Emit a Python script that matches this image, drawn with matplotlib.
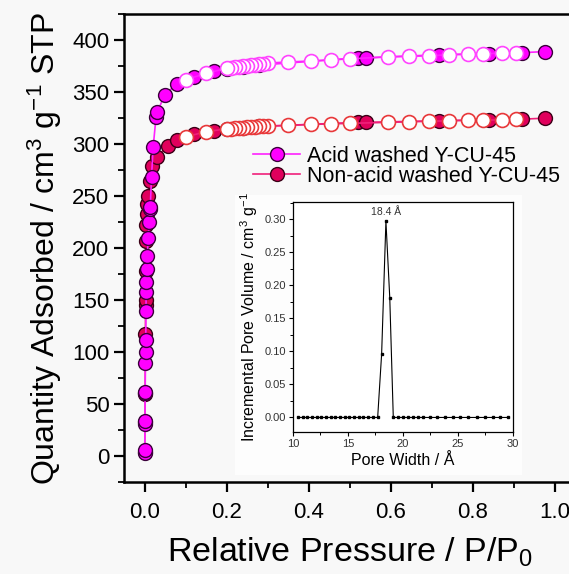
import matplotlib
matplotlib.use("Agg")
import matplotlib.pyplot as plt
from matplotlib.patches import Rectangle
from matplotlib.ticker import MultipleLocator

plt.rcParams['font.family'] = ['Liberation Sans', 'DejaVu Sans']
plt.rcParams['mathtext.default'] = 'regular'

# ---------- isotherm data ----------
acid_ads_x = [0.0005, 0.0005, 0.001, 0.001, 0.0015, 0.0015, 0.002, 0.0025, 0.003,
              0.0035, 0.004, 0.0045, 0.005, 0.0065, 0.009, 0.011, 0.013, 0.014,
              0.017, 0.021, 0.028, 0.031, 0.049, 0.078, 0.12, 0.17, 0.2, 0.24,
              0.28, 0.52, 0.54, 0.717, 0.84, 0.92, 0.976]
acid_ads_y = [3, 6, 31, 34, 61, 62, 90, 100, 112, 140, 158, 167, 180, 192, 210,
              225, 238, 240, 268, 297, 326, 331, 347, 358, 365, 370, 372, 374,
              376, 383, 383, 386, 387, 388, 389]

nonacid_ads_x = [0.0005, 0.001, 0.0015, 0.002, 0.0025, 0.003, 0.0035, 0.004,
                 0.0045, 0.005, 0.007, 0.009, 0.013, 0.019, 0.031, 0.056, 0.08,
                 0.12, 0.17, 0.2, 0.24, 0.28, 0.52, 0.54, 0.717, 0.84, 0.92, 0.976]
nonacid_ads_y = [4, 33, 60, 117, 145, 150, 178, 207, 222, 233, 242, 250, 265,
                 279, 288, 298, 304, 310, 313, 315, 316, 317, 321, 321, 322.5,
                 323.5, 324, 325]

des_x = [0.905, 0.873, 0.825, 0.79, 0.742, 0.693, 0.644, 0.595, 0.50, 0.454,
         0.405, 0.35, 0.30, 0.29, 0.28, 0.27, 0.26, 0.25, 0.24, 0.23, 0.22,
         0.21, 0.20, 0.15, 0.10]
acid_des_y = [388, 387.5, 387, 386.5, 386, 385, 384.5, 384, 382, 381, 380, 379,
              378, 377.5, 377, 376.5, 376, 375.5, 375, 374.5, 374, 373.5, 373,
              368, 362]
nonacid_des_y = [324, 323.5, 323, 323, 322.5, 322, 321.5, 321, 320, 319.5, 319,
                 318, 317.5, 317.3, 317, 316.8, 316.5, 316.2, 316, 315.7, 315.4,
                 315, 314.7, 312, 307]

# ---------- pore size distribution (inset) ----------
pore_width = [10.45, 10.88, 11.3, 11.73, 12.15, 12.58, 13.0, 13.43, 13.85, 14.28,
              14.7, 15.13, 15.55, 15.98, 16.4, 16.83, 17.25, 17.7, 18.06, 18.45,
              18.8, 19.12, 19.57, 20.03, 20.48, 20.94, 21.39, 21.85, 22.45, 23.06,
              23.8, 24.57, 25.18, 25.94, 26.7, 27.45, 28.2, 28.8, 29.57]
pore_vol = [0] * 18 + [0.096, 0.297, 0.181] + [0] * 18

acid_fill, acid_line, acid_open = '#ff00ff', '#ff22ff', '#ff44ff'
non_fill, non_line, non_open = '#e0005c', '#f0207a', '#e8383a'
bg = '#f8f8f8'

fig = plt.figure(figsize=(5.69, 5.74), dpi=100, facecolor=bg)
# white box behind the inset
fig.patches.append(Rectangle((0.413, 0.172), 0.505, 0.488, transform=fig.transFigure,
                             facecolor='#fdfdfd', edgecolor='none', zorder=-5))

ax = fig.add_axes([0.218, 0.160, 0.7926, 0.8153])
ax.set_facecolor('none')

ax.plot(nonacid_ads_x, nonacid_ads_y, '-o', color=non_line, lw=1.2, ms=10,
        mfc=non_fill, mec='#3a0016', mew=1.0, zorder=3,
        label='Non-acid washed Y-CU-45')
ax.plot(acid_ads_x, acid_ads_y, '-o', color=acid_line, lw=1.2, ms=10,
        mfc=acid_fill, mec='#3a003a', mew=1.0, zorder=4,
        label='Acid washed Y-CU-45')
ax.plot(des_x, nonacid_des_y, '-o', color=non_line, lw=1.2, ms=10,
        mfc='white', mec=non_open, mew=1.2, zorder=5)
ax.plot(des_x, acid_des_y, '-o', color=acid_line, lw=1.2, ms=10,
        mfc='white', mec=acid_open, mew=1.2, zorder=5)

ax.set_xlim(-0.05, 1.05)
ax.set_ylim(-25, 425)
ax.xaxis.set_major_locator(MultipleLocator(0.2))
ax.xaxis.set_minor_locator(MultipleLocator(0.1))
ax.yaxis.set_major_locator(MultipleLocator(50))
ax.yaxis.set_minor_locator(MultipleLocator(25))
ax.tick_params(which='major', direction='out', length=7, width=1.6, labelsize=16)
ax.tick_params(axis='x', which='major', pad=7)
ax.tick_params(which='minor', direction='out', length=4, width=1.3)
for s in ax.spines.values():
    s.set_linewidth(1.8)
ax.set_xlabel('Relative Pressure / P/P$_0$', fontsize=24.5, labelpad=9)
ax.set_ylabel('Quantity Adsorbed / cm$^3$ g$^{-1}$ STP', fontsize=23, labelpad=6)

h, l = ax.get_legend_handles_labels()
ax.legend(h[::-1], l[::-1], loc='upper left', bbox_to_anchor=(0.267, 0.737),
          frameon=False, fontsize=15.5, handlelength=2.2, handletextpad=0.3,
          labelspacing=-0.05, borderaxespad=0)

# ---------- inset ----------
ins = fig.add_axes([0.5149, 0.2474, 0.3866, 0.4007])
ins.set_facecolor('white')
ins.plot(pore_width, pore_vol, '-s', color='black', lw=0.8, ms=2.0)
ins.annotate('18.4 Å', xy=(18.45, 0.297), xytext=(0, 3), textcoords='offset points',
             ha='center', va='bottom', fontsize=7.5, color='#333333')
ins.set_xlim(10, 30)
ins.set_ylim(-0.022, 0.326)
ins.xaxis.set_major_locator(MultipleLocator(5))
ins.xaxis.set_minor_locator(MultipleLocator(2.5))
ins.yaxis.set_major_locator(MultipleLocator(0.05))
ins.yaxis.set_minor_locator(MultipleLocator(0.025))
ins.yaxis.set_major_formatter(plt.FormatStrFormatter('%.2f'))
ins.tick_params(which='major', direction='out', length=3, width=0.8, labelsize=8,
                pad=2, labelcolor='#333333')
ins.tick_params(which='minor', direction='out', length=2, width=0.7)
for s in ins.spines.values():
    s.set_linewidth(0.9)
ins.set_xlabel('Pore Width / Å', fontsize=11.5, labelpad=3)
ins.set_ylabel('Incremental Pore Volume / cm$^3$ g$^{-1}$', fontsize=11.5, labelpad=3)

fig.savefig('out.png', dpi=100, facecolor=bg)
